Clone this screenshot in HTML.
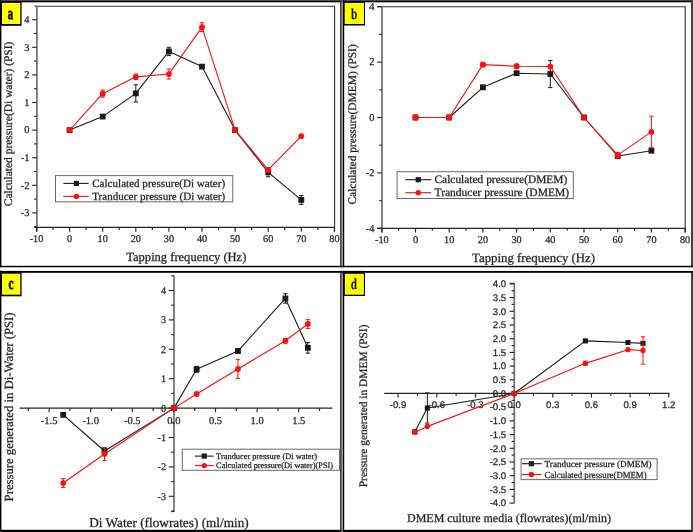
<!DOCTYPE html>
<html><head><meta charset="utf-8"><title>Pressure charts</title>
<style>html,body{margin:0;padding:0;background:#fff;}svg{display:block;will-change:transform;}text{text-rendering:geometricPrecision;}</style>
</head><body>
<svg width="693" height="532" viewBox="0 0 693 532">
<rect x="0.00" y="0.00" width="693.00" height="532.00" fill="#ffffff"/>
<line x1="34.30" y1="6.30" x2="335.00" y2="6.30" stroke="#303030" stroke-width="1.1"/>
<line x1="334.60" y1="6.30" x2="334.60" y2="231.60" stroke="#303030" stroke-width="1.1"/>
<line x1="36.90" y1="5.80" x2="36.90" y2="231.60" stroke="#707070" stroke-width="1.7"/>
<line x1="34.30" y1="227.30" x2="335.00" y2="227.30" stroke="#262626" stroke-width="1.2"/>
<line x1="32.20" y1="212.90" x2="36.70" y2="212.90" stroke="#262626" stroke-width="1.15"/>
<text x="29.40" y="216.10" font-family="'Liberation Serif', serif" font-size="10.4" fill="#262626" text-anchor="end" font-weight="normal" stroke="#262626" stroke-width="0.25" >-3</text>
<line x1="32.20" y1="185.30" x2="36.70" y2="185.30" stroke="#262626" stroke-width="1.15"/>
<text x="29.40" y="188.50" font-family="'Liberation Serif', serif" font-size="10.4" fill="#262626" text-anchor="end" font-weight="normal" stroke="#262626" stroke-width="0.25" >-2</text>
<line x1="32.20" y1="157.70" x2="36.70" y2="157.70" stroke="#262626" stroke-width="1.15"/>
<text x="29.40" y="160.90" font-family="'Liberation Serif', serif" font-size="10.4" fill="#262626" text-anchor="end" font-weight="normal" stroke="#262626" stroke-width="0.25" >-1</text>
<line x1="32.20" y1="130.10" x2="36.70" y2="130.10" stroke="#262626" stroke-width="1.15"/>
<text x="29.40" y="133.30" font-family="'Liberation Serif', serif" font-size="10.4" fill="#262626" text-anchor="end" font-weight="normal" stroke="#262626" stroke-width="0.25" >0</text>
<line x1="32.20" y1="102.50" x2="36.70" y2="102.50" stroke="#262626" stroke-width="1.15"/>
<text x="29.40" y="105.70" font-family="'Liberation Serif', serif" font-size="10.4" fill="#262626" text-anchor="end" font-weight="normal" stroke="#262626" stroke-width="0.25" >1</text>
<line x1="32.20" y1="74.90" x2="36.70" y2="74.90" stroke="#262626" stroke-width="1.15"/>
<text x="29.40" y="78.10" font-family="'Liberation Serif', serif" font-size="10.4" fill="#262626" text-anchor="end" font-weight="normal" stroke="#262626" stroke-width="0.25" >2</text>
<line x1="32.20" y1="47.30" x2="36.70" y2="47.30" stroke="#262626" stroke-width="1.15"/>
<text x="29.40" y="50.50" font-family="'Liberation Serif', serif" font-size="10.4" fill="#262626" text-anchor="end" font-weight="normal" stroke="#262626" stroke-width="0.25" >3</text>
<line x1="32.20" y1="19.70" x2="36.70" y2="19.70" stroke="#262626" stroke-width="1.15"/>
<text x="29.40" y="22.90" font-family="'Liberation Serif', serif" font-size="10.4" fill="#262626" text-anchor="end" font-weight="normal" stroke="#262626" stroke-width="0.25" >4</text>
<line x1="34.10" y1="226.70" x2="36.70" y2="226.70" stroke="#262626" stroke-width="1.15"/>
<line x1="34.10" y1="199.10" x2="36.70" y2="199.10" stroke="#262626" stroke-width="1.15"/>
<line x1="34.10" y1="171.50" x2="36.70" y2="171.50" stroke="#262626" stroke-width="1.15"/>
<line x1="34.10" y1="143.90" x2="36.70" y2="143.90" stroke="#262626" stroke-width="1.15"/>
<line x1="34.10" y1="116.30" x2="36.70" y2="116.30" stroke="#262626" stroke-width="1.15"/>
<line x1="34.10" y1="88.70" x2="36.70" y2="88.70" stroke="#262626" stroke-width="1.15"/>
<line x1="34.10" y1="61.10" x2="36.70" y2="61.10" stroke="#262626" stroke-width="1.15"/>
<line x1="34.10" y1="33.50" x2="36.70" y2="33.50" stroke="#262626" stroke-width="1.15"/>
<line x1="36.50" y1="227.30" x2="36.50" y2="231.70" stroke="#262626" stroke-width="1.15"/>
<text x="36.50" y="241.70" font-family="'Liberation Serif', serif" font-size="10.2" fill="#262626" text-anchor="middle" font-weight="normal" stroke="#262626" stroke-width="0.25" >-10</text>
<line x1="69.60" y1="227.30" x2="69.60" y2="231.70" stroke="#262626" stroke-width="1.15"/>
<text x="69.60" y="241.70" font-family="'Liberation Serif', serif" font-size="10.2" fill="#262626" text-anchor="middle" font-weight="normal" stroke="#262626" stroke-width="0.25" >0</text>
<line x1="102.70" y1="227.30" x2="102.70" y2="231.70" stroke="#262626" stroke-width="1.15"/>
<text x="102.70" y="241.70" font-family="'Liberation Serif', serif" font-size="10.2" fill="#262626" text-anchor="middle" font-weight="normal" stroke="#262626" stroke-width="0.25" >10</text>
<line x1="135.80" y1="227.30" x2="135.80" y2="231.70" stroke="#262626" stroke-width="1.15"/>
<text x="135.80" y="241.70" font-family="'Liberation Serif', serif" font-size="10.2" fill="#262626" text-anchor="middle" font-weight="normal" stroke="#262626" stroke-width="0.25" >20</text>
<line x1="168.90" y1="227.30" x2="168.90" y2="231.70" stroke="#262626" stroke-width="1.15"/>
<text x="168.90" y="241.70" font-family="'Liberation Serif', serif" font-size="10.2" fill="#262626" text-anchor="middle" font-weight="normal" stroke="#262626" stroke-width="0.25" >30</text>
<line x1="202.00" y1="227.30" x2="202.00" y2="231.70" stroke="#262626" stroke-width="1.15"/>
<text x="202.00" y="241.70" font-family="'Liberation Serif', serif" font-size="10.2" fill="#262626" text-anchor="middle" font-weight="normal" stroke="#262626" stroke-width="0.25" >40</text>
<line x1="235.10" y1="227.30" x2="235.10" y2="231.70" stroke="#262626" stroke-width="1.15"/>
<text x="235.10" y="241.70" font-family="'Liberation Serif', serif" font-size="10.2" fill="#262626" text-anchor="middle" font-weight="normal" stroke="#262626" stroke-width="0.25" >50</text>
<line x1="268.20" y1="227.30" x2="268.20" y2="231.70" stroke="#262626" stroke-width="1.15"/>
<text x="268.20" y="241.70" font-family="'Liberation Serif', serif" font-size="10.2" fill="#262626" text-anchor="middle" font-weight="normal" stroke="#262626" stroke-width="0.25" >60</text>
<line x1="301.30" y1="227.30" x2="301.30" y2="231.70" stroke="#262626" stroke-width="1.15"/>
<text x="301.30" y="241.70" font-family="'Liberation Serif', serif" font-size="10.2" fill="#262626" text-anchor="middle" font-weight="normal" stroke="#262626" stroke-width="0.25" >70</text>
<line x1="334.40" y1="227.30" x2="334.40" y2="231.70" stroke="#262626" stroke-width="1.15"/>
<text x="334.40" y="241.70" font-family="'Liberation Serif', serif" font-size="10.2" fill="#262626" text-anchor="middle" font-weight="normal" stroke="#262626" stroke-width="0.25" >80</text>
<line x1="53.05" y1="227.30" x2="53.05" y2="229.90" stroke="#262626" stroke-width="1.15"/>
<line x1="86.15" y1="227.30" x2="86.15" y2="229.90" stroke="#262626" stroke-width="1.15"/>
<line x1="119.25" y1="227.30" x2="119.25" y2="229.90" stroke="#262626" stroke-width="1.15"/>
<line x1="152.35" y1="227.30" x2="152.35" y2="229.90" stroke="#262626" stroke-width="1.15"/>
<line x1="185.45" y1="227.30" x2="185.45" y2="229.90" stroke="#262626" stroke-width="1.15"/>
<line x1="218.55" y1="227.30" x2="218.55" y2="229.90" stroke="#262626" stroke-width="1.15"/>
<line x1="251.65" y1="227.30" x2="251.65" y2="229.90" stroke="#262626" stroke-width="1.15"/>
<line x1="284.75" y1="227.30" x2="284.75" y2="229.90" stroke="#262626" stroke-width="1.15"/>
<line x1="317.85" y1="227.30" x2="317.85" y2="229.90" stroke="#262626" stroke-width="1.15"/>
<text x="186.30" y="260.80" font-family="'Liberation Serif', serif" font-size="12.5" fill="#222" text-anchor="middle" font-weight="normal" stroke="#222" stroke-width="0.25" textLength="120" lengthAdjust="spacingAndGlyphs">Tapping frequency (Hz)</text>
<text transform="translate(11.50,123.90) rotate(-90)" x="0" y="0" font-family="'Liberation Serif', serif" font-size="11.5" fill="#222" stroke="#222" stroke-width="0.25" text-anchor="middle" font-weight="normal" textLength="164.5" lengthAdjust="spacingAndGlyphs">Calculated pressure(Di water) (PSI)</text>
<polyline points="69.60,130.10 102.70,116.58 135.80,93.39 168.90,51.44 202.00,66.62 235.10,130.10 268.20,172.33 301.30,199.93" fill="none" stroke="#1a1a1a" stroke-width="1.1" stroke-linejoin="round"/>
<line x1="135.80" y1="84.84" x2="135.80" y2="101.95" stroke="#1a1a1a" stroke-width="1.0"/>
<line x1="133.60" y1="84.84" x2="138.00" y2="84.84" stroke="#1a1a1a" stroke-width="1.0"/>
<line x1="133.60" y1="101.95" x2="138.00" y2="101.95" stroke="#1a1a1a" stroke-width="1.0"/>
<line x1="168.90" y1="47.30" x2="168.90" y2="55.58" stroke="#1a1a1a" stroke-width="1.0"/>
<line x1="166.70" y1="47.30" x2="171.10" y2="47.30" stroke="#1a1a1a" stroke-width="1.0"/>
<line x1="166.70" y1="55.58" x2="171.10" y2="55.58" stroke="#1a1a1a" stroke-width="1.0"/>
<line x1="202.00" y1="65.24" x2="202.00" y2="68.00" stroke="#1a1a1a" stroke-width="1.0"/>
<line x1="199.80" y1="65.24" x2="204.20" y2="65.24" stroke="#1a1a1a" stroke-width="1.0"/>
<line x1="199.80" y1="68.00" x2="204.20" y2="68.00" stroke="#1a1a1a" stroke-width="1.0"/>
<line x1="268.20" y1="167.91" x2="268.20" y2="176.74" stroke="#1a1a1a" stroke-width="1.0"/>
<line x1="266.00" y1="167.91" x2="270.40" y2="167.91" stroke="#1a1a1a" stroke-width="1.0"/>
<line x1="266.00" y1="176.74" x2="270.40" y2="176.74" stroke="#1a1a1a" stroke-width="1.0"/>
<line x1="301.30" y1="195.51" x2="301.30" y2="204.34" stroke="#1a1a1a" stroke-width="1.0"/>
<line x1="299.10" y1="195.51" x2="303.50" y2="195.51" stroke="#1a1a1a" stroke-width="1.0"/>
<line x1="299.10" y1="204.34" x2="303.50" y2="204.34" stroke="#1a1a1a" stroke-width="1.0"/>
<rect x="66.70" y="127.20" width="5.80" height="5.80" fill="#1a1a1a"/>
<rect x="99.80" y="113.68" width="5.80" height="5.80" fill="#1a1a1a"/>
<rect x="132.90" y="90.49" width="5.80" height="5.80" fill="#1a1a1a"/>
<rect x="166.00" y="48.54" width="5.80" height="5.80" fill="#1a1a1a"/>
<rect x="199.10" y="63.72" width="5.80" height="5.80" fill="#1a1a1a"/>
<rect x="232.20" y="127.20" width="5.80" height="5.80" fill="#1a1a1a"/>
<rect x="265.30" y="169.43" width="5.80" height="5.80" fill="#1a1a1a"/>
<rect x="298.40" y="197.03" width="5.80" height="5.80" fill="#1a1a1a"/>
<polyline points="69.60,130.10 102.70,93.67 135.80,76.83 168.90,74.07 202.00,27.15 235.10,130.10 268.20,169.84 301.30,136.17" fill="none" stroke="#ff1010" stroke-width="1.1" stroke-linejoin="round"/>
<line x1="102.70" y1="90.08" x2="102.70" y2="97.26" stroke="#ff1010" stroke-width="1.0"/>
<line x1="100.50" y1="90.08" x2="104.90" y2="90.08" stroke="#ff1010" stroke-width="1.0"/>
<line x1="100.50" y1="97.26" x2="104.90" y2="97.26" stroke="#ff1010" stroke-width="1.0"/>
<line x1="135.80" y1="74.07" x2="135.80" y2="79.59" stroke="#ff1010" stroke-width="1.0"/>
<line x1="133.60" y1="74.07" x2="138.00" y2="74.07" stroke="#ff1010" stroke-width="1.0"/>
<line x1="133.60" y1="79.59" x2="138.00" y2="79.59" stroke="#ff1010" stroke-width="1.0"/>
<line x1="168.90" y1="69.10" x2="168.90" y2="79.04" stroke="#ff1010" stroke-width="1.0"/>
<line x1="166.70" y1="69.10" x2="171.10" y2="69.10" stroke="#ff1010" stroke-width="1.0"/>
<line x1="166.70" y1="79.04" x2="171.10" y2="79.04" stroke="#ff1010" stroke-width="1.0"/>
<line x1="202.00" y1="22.74" x2="202.00" y2="31.57" stroke="#ff1010" stroke-width="1.0"/>
<line x1="199.80" y1="22.74" x2="204.20" y2="22.74" stroke="#ff1010" stroke-width="1.0"/>
<line x1="199.80" y1="31.57" x2="204.20" y2="31.57" stroke="#ff1010" stroke-width="1.0"/>
<line x1="268.20" y1="167.64" x2="268.20" y2="172.05" stroke="#ff1010" stroke-width="1.0"/>
<line x1="266.00" y1="167.64" x2="270.40" y2="167.64" stroke="#ff1010" stroke-width="1.0"/>
<line x1="266.00" y1="172.05" x2="270.40" y2="172.05" stroke="#ff1010" stroke-width="1.0"/>
<circle cx="69.60" cy="130.10" r="2.90" fill="#ff1010"/>
<circle cx="102.70" cy="93.67" r="2.90" fill="#ff1010"/>
<circle cx="135.80" cy="76.83" r="2.90" fill="#ff1010"/>
<circle cx="168.90" cy="74.07" r="2.90" fill="#ff1010"/>
<circle cx="202.00" cy="27.15" r="2.90" fill="#ff1010"/>
<circle cx="235.10" cy="130.10" r="2.90" fill="#ff1010"/>
<circle cx="268.20" cy="169.84" r="2.90" fill="#ff1010"/>
<circle cx="301.30" cy="136.17" r="2.90" fill="#ff1010"/>
<rect x="55.50" y="175.60" width="177.30" height="26.20" fill="#fff" stroke="#6a6a6a" stroke-width="1"/>
<line x1="63.40" y1="183.40" x2="88.70" y2="183.40" stroke="#1a1a1a" stroke-width="1.1"/>
<rect x="73.80" y="180.80" width="5.20" height="5.20" fill="#1a1a1a"/>
<text x="92.20" y="187.06" font-family="'Liberation Serif', serif" font-size="11.1" fill="#222" text-anchor="start" font-weight="normal" stroke="#222" stroke-width="0.25" textLength="133" lengthAdjust="spacingAndGlyphs">Calculated pressure(Di water)</text>
<line x1="63.40" y1="196.40" x2="88.70" y2="196.40" stroke="#ff1010" stroke-width="1.1"/>
<circle cx="76.40" cy="196.40" r="2.7" fill="#ff1010"/>
<text x="92.20" y="200.06" font-family="'Liberation Serif', serif" font-size="11.1" fill="#222" text-anchor="start" font-weight="normal" stroke="#222" stroke-width="0.25" textLength="133" lengthAdjust="spacingAndGlyphs">Tranducer pressure (Di water)</text>
<line x1="377.00" y1="6.70" x2="685.60" y2="6.70" stroke="#303030" stroke-width="1.1"/>
<line x1="685.20" y1="6.70" x2="685.20" y2="232.60" stroke="#303030" stroke-width="1.1"/>
<line x1="382.00" y1="6.20" x2="382.00" y2="232.60" stroke="#707070" stroke-width="1.7"/>
<line x1="377.00" y1="228.30" x2="685.60" y2="228.30" stroke="#262626" stroke-width="1.2"/>
<line x1="377.20" y1="228.30" x2="381.80" y2="228.30" stroke="#262626" stroke-width="1.15"/>
<text x="374.40" y="231.50" font-family="'Liberation Serif', serif" font-size="10.4" fill="#262626" text-anchor="end" font-weight="normal" stroke="#262626" stroke-width="0.25" >-4</text>
<line x1="379.30" y1="200.60" x2="381.80" y2="200.60" stroke="#262626" stroke-width="1.15"/>
<line x1="377.20" y1="172.90" x2="381.80" y2="172.90" stroke="#262626" stroke-width="1.15"/>
<text x="374.40" y="176.10" font-family="'Liberation Serif', serif" font-size="10.4" fill="#262626" text-anchor="end" font-weight="normal" stroke="#262626" stroke-width="0.25" >-2</text>
<line x1="379.30" y1="145.20" x2="381.80" y2="145.20" stroke="#262626" stroke-width="1.15"/>
<line x1="377.20" y1="117.50" x2="381.80" y2="117.50" stroke="#262626" stroke-width="1.15"/>
<text x="374.40" y="120.70" font-family="'Liberation Serif', serif" font-size="10.4" fill="#262626" text-anchor="end" font-weight="normal" stroke="#262626" stroke-width="0.25" >0</text>
<line x1="379.30" y1="89.80" x2="381.80" y2="89.80" stroke="#262626" stroke-width="1.15"/>
<line x1="377.20" y1="62.10" x2="381.80" y2="62.10" stroke="#262626" stroke-width="1.15"/>
<text x="374.40" y="65.30" font-family="'Liberation Serif', serif" font-size="10.4" fill="#262626" text-anchor="end" font-weight="normal" stroke="#262626" stroke-width="0.25" >2</text>
<line x1="379.30" y1="34.40" x2="381.80" y2="34.40" stroke="#262626" stroke-width="1.15"/>
<line x1="377.20" y1="6.70" x2="381.80" y2="6.70" stroke="#262626" stroke-width="1.15"/>
<text x="374.40" y="9.90" font-family="'Liberation Serif', serif" font-size="10.4" fill="#262626" text-anchor="end" font-weight="normal" stroke="#262626" stroke-width="0.25" >4</text>
<line x1="381.80" y1="228.40" x2="381.80" y2="232.60" stroke="#262626" stroke-width="1.15"/>
<text x="381.80" y="242.60" font-family="'Liberation Serif', serif" font-size="10.2" fill="#262626" text-anchor="middle" font-weight="normal" stroke="#262626" stroke-width="0.25" >-10</text>
<line x1="415.50" y1="228.40" x2="415.50" y2="232.60" stroke="#262626" stroke-width="1.15"/>
<text x="415.50" y="242.60" font-family="'Liberation Serif', serif" font-size="10.2" fill="#262626" text-anchor="middle" font-weight="normal" stroke="#262626" stroke-width="0.25" >0</text>
<line x1="449.20" y1="228.40" x2="449.20" y2="232.60" stroke="#262626" stroke-width="1.15"/>
<text x="449.20" y="242.60" font-family="'Liberation Serif', serif" font-size="10.2" fill="#262626" text-anchor="middle" font-weight="normal" stroke="#262626" stroke-width="0.25" >10</text>
<line x1="482.90" y1="228.40" x2="482.90" y2="232.60" stroke="#262626" stroke-width="1.15"/>
<text x="482.90" y="242.60" font-family="'Liberation Serif', serif" font-size="10.2" fill="#262626" text-anchor="middle" font-weight="normal" stroke="#262626" stroke-width="0.25" >20</text>
<line x1="516.60" y1="228.40" x2="516.60" y2="232.60" stroke="#262626" stroke-width="1.15"/>
<text x="516.60" y="242.60" font-family="'Liberation Serif', serif" font-size="10.2" fill="#262626" text-anchor="middle" font-weight="normal" stroke="#262626" stroke-width="0.25" >30</text>
<line x1="550.30" y1="228.40" x2="550.30" y2="232.60" stroke="#262626" stroke-width="1.15"/>
<text x="550.30" y="242.60" font-family="'Liberation Serif', serif" font-size="10.2" fill="#262626" text-anchor="middle" font-weight="normal" stroke="#262626" stroke-width="0.25" >40</text>
<line x1="584.00" y1="228.40" x2="584.00" y2="232.60" stroke="#262626" stroke-width="1.15"/>
<text x="584.00" y="242.60" font-family="'Liberation Serif', serif" font-size="10.2" fill="#262626" text-anchor="middle" font-weight="normal" stroke="#262626" stroke-width="0.25" >50</text>
<line x1="617.70" y1="228.40" x2="617.70" y2="232.60" stroke="#262626" stroke-width="1.15"/>
<text x="617.70" y="242.60" font-family="'Liberation Serif', serif" font-size="10.2" fill="#262626" text-anchor="middle" font-weight="normal" stroke="#262626" stroke-width="0.25" >60</text>
<line x1="651.40" y1="228.40" x2="651.40" y2="232.60" stroke="#262626" stroke-width="1.15"/>
<text x="651.40" y="242.60" font-family="'Liberation Serif', serif" font-size="10.2" fill="#262626" text-anchor="middle" font-weight="normal" stroke="#262626" stroke-width="0.25" >70</text>
<line x1="685.10" y1="228.40" x2="685.10" y2="232.60" stroke="#262626" stroke-width="1.15"/>
<text x="685.10" y="242.60" font-family="'Liberation Serif', serif" font-size="10.2" fill="#262626" text-anchor="middle" font-weight="normal" stroke="#262626" stroke-width="0.25" >80</text>
<line x1="398.65" y1="228.40" x2="398.65" y2="230.80" stroke="#262626" stroke-width="1.15"/>
<line x1="432.35" y1="228.40" x2="432.35" y2="230.80" stroke="#262626" stroke-width="1.15"/>
<line x1="466.05" y1="228.40" x2="466.05" y2="230.80" stroke="#262626" stroke-width="1.15"/>
<line x1="499.75" y1="228.40" x2="499.75" y2="230.80" stroke="#262626" stroke-width="1.15"/>
<line x1="533.45" y1="228.40" x2="533.45" y2="230.80" stroke="#262626" stroke-width="1.15"/>
<line x1="567.15" y1="228.40" x2="567.15" y2="230.80" stroke="#262626" stroke-width="1.15"/>
<line x1="600.85" y1="228.40" x2="600.85" y2="230.80" stroke="#262626" stroke-width="1.15"/>
<line x1="634.55" y1="228.40" x2="634.55" y2="230.80" stroke="#262626" stroke-width="1.15"/>
<line x1="668.25" y1="228.40" x2="668.25" y2="230.80" stroke="#262626" stroke-width="1.15"/>
<text x="533.50" y="261.70" font-family="'Liberation Serif', serif" font-size="12.8" fill="#222" text-anchor="middle" font-weight="normal" stroke="#222" stroke-width="0.25" textLength="123" lengthAdjust="spacingAndGlyphs">Tapping frequency (Hz)</text>
<text transform="translate(356.20,124.40) rotate(-90)" x="0" y="0" font-family="'Liberation Serif', serif" font-size="11.5" fill="#222" stroke="#222" stroke-width="0.25" text-anchor="middle" font-weight="normal" textLength="160.3" lengthAdjust="spacingAndGlyphs">Calculated pressure(DMEM) (PSI)</text>
<polyline points="415.50,117.50 449.20,117.50 482.90,87.31 516.60,73.18 550.30,74.01 584.00,117.50 617.70,156.00 651.40,150.74" fill="none" stroke="#1a1a1a" stroke-width="1.1" stroke-linejoin="round"/>
<line x1="550.30" y1="60.44" x2="550.30" y2="87.58" stroke="#1a1a1a" stroke-width="1.0"/>
<line x1="548.10" y1="60.44" x2="552.50" y2="60.44" stroke="#1a1a1a" stroke-width="1.0"/>
<line x1="548.10" y1="87.58" x2="552.50" y2="87.58" stroke="#1a1a1a" stroke-width="1.0"/>
<line x1="617.70" y1="153.79" x2="617.70" y2="158.22" stroke="#1a1a1a" stroke-width="1.0"/>
<line x1="615.50" y1="153.79" x2="619.90" y2="153.79" stroke="#1a1a1a" stroke-width="1.0"/>
<line x1="615.50" y1="158.22" x2="619.90" y2="158.22" stroke="#1a1a1a" stroke-width="1.0"/>
<line x1="651.40" y1="149.35" x2="651.40" y2="152.12" stroke="#1a1a1a" stroke-width="1.0"/>
<line x1="649.20" y1="149.35" x2="653.60" y2="149.35" stroke="#1a1a1a" stroke-width="1.0"/>
<line x1="649.20" y1="152.12" x2="653.60" y2="152.12" stroke="#1a1a1a" stroke-width="1.0"/>
<rect x="412.60" y="114.60" width="5.80" height="5.80" fill="#1a1a1a"/>
<rect x="446.30" y="114.60" width="5.80" height="5.80" fill="#1a1a1a"/>
<rect x="480.00" y="84.41" width="5.80" height="5.80" fill="#1a1a1a"/>
<rect x="513.70" y="70.28" width="5.80" height="5.80" fill="#1a1a1a"/>
<rect x="547.40" y="71.11" width="5.80" height="5.80" fill="#1a1a1a"/>
<rect x="581.10" y="114.60" width="5.80" height="5.80" fill="#1a1a1a"/>
<rect x="614.80" y="153.10" width="5.80" height="5.80" fill="#1a1a1a"/>
<rect x="648.50" y="147.84" width="5.80" height="5.80" fill="#1a1a1a"/>
<polyline points="415.50,117.50 449.20,117.50 482.90,64.59 516.60,66.25 550.30,66.53 584.00,117.50 617.70,155.17 651.40,131.90" fill="none" stroke="#ff1010" stroke-width="1.1" stroke-linejoin="round"/>
<line x1="482.90" y1="63.48" x2="482.90" y2="65.70" stroke="#ff1010" stroke-width="1.0"/>
<line x1="480.70" y1="63.48" x2="485.10" y2="63.48" stroke="#ff1010" stroke-width="1.0"/>
<line x1="480.70" y1="65.70" x2="485.10" y2="65.70" stroke="#ff1010" stroke-width="1.0"/>
<line x1="516.60" y1="65.42" x2="516.60" y2="67.09" stroke="#ff1010" stroke-width="1.0"/>
<line x1="514.40" y1="65.42" x2="518.80" y2="65.42" stroke="#ff1010" stroke-width="1.0"/>
<line x1="514.40" y1="67.09" x2="518.80" y2="67.09" stroke="#ff1010" stroke-width="1.0"/>
<line x1="550.30" y1="65.15" x2="550.30" y2="67.92" stroke="#ff1010" stroke-width="1.0"/>
<line x1="548.10" y1="65.15" x2="552.50" y2="65.15" stroke="#ff1010" stroke-width="1.0"/>
<line x1="548.10" y1="67.92" x2="552.50" y2="67.92" stroke="#ff1010" stroke-width="1.0"/>
<line x1="617.70" y1="152.40" x2="617.70" y2="157.94" stroke="#ff1010" stroke-width="1.0"/>
<line x1="615.50" y1="152.40" x2="619.90" y2="152.40" stroke="#ff1010" stroke-width="1.0"/>
<line x1="615.50" y1="157.94" x2="619.90" y2="157.94" stroke="#ff1010" stroke-width="1.0"/>
<line x1="651.40" y1="116.12" x2="651.40" y2="147.69" stroke="#ff1010" stroke-width="1.0"/>
<line x1="649.20" y1="116.12" x2="653.60" y2="116.12" stroke="#ff1010" stroke-width="1.0"/>
<line x1="649.20" y1="147.69" x2="653.60" y2="147.69" stroke="#ff1010" stroke-width="1.0"/>
<rect x="412.60" y="114.60" width="5.8" height="5.8" rx="1.6" fill="#ff1010"/>
<rect x="446.30" y="114.60" width="5.8" height="5.8" rx="1.6" fill="#ff1010"/>
<rect x="480.00" y="61.69" width="5.8" height="5.8" rx="1.6" fill="#ff1010"/>
<rect x="513.70" y="63.35" width="5.8" height="5.8" rx="1.6" fill="#ff1010"/>
<circle cx="550.30" cy="66.53" r="2.90" fill="#ff1010"/>
<circle cx="584.00" cy="117.50" r="2.90" fill="#ff1010"/>
<circle cx="617.70" cy="155.17" r="2.90" fill="#ff1010"/>
<circle cx="651.40" cy="131.90" r="2.90" fill="#ff1010"/>
<rect x="397.10" y="171.70" width="176.20" height="26.80" fill="#fff" stroke="#6a6a6a" stroke-width="1"/>
<line x1="405.30" y1="179.70" x2="431.30" y2="179.70" stroke="#1a1a1a" stroke-width="1.1"/>
<rect x="415.70" y="177.10" width="5.20" height="5.20" fill="#1a1a1a"/>
<text x="434.50" y="183.46" font-family="'Liberation Serif', serif" font-size="11.4" fill="#222" text-anchor="start" font-weight="normal" stroke="#222" stroke-width="0.25" textLength="132.8" lengthAdjust="spacingAndGlyphs">Calculated pressure(DMEM)</text>
<line x1="405.30" y1="192.70" x2="431.30" y2="192.70" stroke="#ff1010" stroke-width="1.1"/>
<circle cx="418.30" cy="192.70" r="2.7" fill="#ff1010"/>
<text x="434.50" y="196.46" font-family="'Liberation Serif', serif" font-size="11.4" fill="#222" text-anchor="start" font-weight="normal" stroke="#222" stroke-width="0.25" textLength="134.5" lengthAdjust="spacingAndGlyphs">Tranducer pressure (DMEM)</text>
<line x1="19.50" y1="408.20" x2="332.50" y2="408.20" stroke="#262626" stroke-width="1.2"/>
<line x1="174.00" y1="275.40" x2="174.00" y2="512.00" stroke="#707070" stroke-width="1.7"/>
<line x1="171.30" y1="275.80" x2="173.90" y2="275.80" stroke="#262626" stroke-width="1.15"/>
<line x1="171.30" y1="511.60" x2="173.90" y2="511.60" stroke="#262626" stroke-width="1.15"/>
<line x1="168.80" y1="496.30" x2="173.90" y2="496.30" stroke="#262626" stroke-width="1.15"/>
<text x="166.00" y="499.80" font-family="'Liberation Serif', serif" font-size="10.2" fill="#262626" text-anchor="end" font-weight="normal" stroke="#262626" stroke-width="0.25" >-3</text>
<line x1="168.80" y1="466.90" x2="173.90" y2="466.90" stroke="#262626" stroke-width="1.15"/>
<text x="166.00" y="470.40" font-family="'Liberation Serif', serif" font-size="10.2" fill="#262626" text-anchor="end" font-weight="normal" stroke="#262626" stroke-width="0.25" >-2</text>
<line x1="168.80" y1="437.50" x2="173.90" y2="437.50" stroke="#262626" stroke-width="1.15"/>
<text x="166.00" y="441.00" font-family="'Liberation Serif', serif" font-size="10.2" fill="#262626" text-anchor="end" font-weight="normal" stroke="#262626" stroke-width="0.25" >-1</text>
<line x1="168.80" y1="408.10" x2="173.90" y2="408.10" stroke="#262626" stroke-width="1.15"/>
<text x="166.00" y="411.60" font-family="'Liberation Serif', serif" font-size="10.2" fill="#262626" text-anchor="end" font-weight="normal" stroke="#262626" stroke-width="0.25" >0</text>
<line x1="168.80" y1="378.70" x2="173.90" y2="378.70" stroke="#262626" stroke-width="1.15"/>
<text x="166.00" y="382.20" font-family="'Liberation Serif', serif" font-size="10.2" fill="#262626" text-anchor="end" font-weight="normal" stroke="#262626" stroke-width="0.25" >1</text>
<line x1="168.80" y1="349.30" x2="173.90" y2="349.30" stroke="#262626" stroke-width="1.15"/>
<text x="166.00" y="352.80" font-family="'Liberation Serif', serif" font-size="10.2" fill="#262626" text-anchor="end" font-weight="normal" stroke="#262626" stroke-width="0.25" >2</text>
<line x1="168.80" y1="319.90" x2="173.90" y2="319.90" stroke="#262626" stroke-width="1.15"/>
<text x="166.00" y="323.40" font-family="'Liberation Serif', serif" font-size="10.2" fill="#262626" text-anchor="end" font-weight="normal" stroke="#262626" stroke-width="0.25" >3</text>
<line x1="168.80" y1="290.50" x2="173.90" y2="290.50" stroke="#262626" stroke-width="1.15"/>
<text x="166.00" y="294.00" font-family="'Liberation Serif', serif" font-size="10.2" fill="#262626" text-anchor="end" font-weight="normal" stroke="#262626" stroke-width="0.25" >4</text>
<line x1="171.20" y1="511.00" x2="173.90" y2="511.00" stroke="#262626" stroke-width="1.15"/>
<line x1="171.20" y1="481.60" x2="173.90" y2="481.60" stroke="#262626" stroke-width="1.15"/>
<line x1="171.20" y1="452.20" x2="173.90" y2="452.20" stroke="#262626" stroke-width="1.15"/>
<line x1="171.20" y1="422.80" x2="173.90" y2="422.80" stroke="#262626" stroke-width="1.15"/>
<line x1="171.20" y1="393.40" x2="173.90" y2="393.40" stroke="#262626" stroke-width="1.15"/>
<line x1="171.20" y1="364.00" x2="173.90" y2="364.00" stroke="#262626" stroke-width="1.15"/>
<line x1="171.20" y1="334.60" x2="173.90" y2="334.60" stroke="#262626" stroke-width="1.15"/>
<line x1="171.20" y1="305.20" x2="173.90" y2="305.20" stroke="#262626" stroke-width="1.15"/>
<line x1="49.10" y1="408.10" x2="49.10" y2="412.30" stroke="#262626" stroke-width="1.15"/>
<text x="49.10" y="424.30" font-family="'Liberation Serif', serif" font-size="10.5" fill="#262626" text-anchor="middle" font-weight="normal" stroke="#262626" stroke-width="0.25" >-1.5</text>
<line x1="90.70" y1="408.10" x2="90.70" y2="412.30" stroke="#262626" stroke-width="1.15"/>
<text x="90.70" y="424.30" font-family="'Liberation Serif', serif" font-size="10.5" fill="#262626" text-anchor="middle" font-weight="normal" stroke="#262626" stroke-width="0.25" >-1.0</text>
<line x1="132.30" y1="408.10" x2="132.30" y2="412.30" stroke="#262626" stroke-width="1.15"/>
<text x="132.30" y="424.30" font-family="'Liberation Serif', serif" font-size="10.5" fill="#262626" text-anchor="middle" font-weight="normal" stroke="#262626" stroke-width="0.25" >-0.5</text>
<line x1="173.90" y1="408.10" x2="173.90" y2="412.30" stroke="#262626" stroke-width="1.15"/>
<text x="173.90" y="424.30" font-family="'Liberation Serif', serif" font-size="10.5" fill="#262626" text-anchor="middle" font-weight="normal" stroke="#262626" stroke-width="0.25" >0.0</text>
<line x1="215.50" y1="408.10" x2="215.50" y2="412.30" stroke="#262626" stroke-width="1.15"/>
<text x="215.50" y="424.30" font-family="'Liberation Serif', serif" font-size="10.5" fill="#262626" text-anchor="middle" font-weight="normal" stroke="#262626" stroke-width="0.25" >0.5</text>
<line x1="257.10" y1="408.10" x2="257.10" y2="412.30" stroke="#262626" stroke-width="1.15"/>
<text x="257.10" y="424.30" font-family="'Liberation Serif', serif" font-size="10.5" fill="#262626" text-anchor="middle" font-weight="normal" stroke="#262626" stroke-width="0.25" >1.0</text>
<line x1="298.70" y1="408.10" x2="298.70" y2="412.30" stroke="#262626" stroke-width="1.15"/>
<text x="298.70" y="424.30" font-family="'Liberation Serif', serif" font-size="10.5" fill="#262626" text-anchor="middle" font-weight="normal" stroke="#262626" stroke-width="0.25" >1.5</text>
<line x1="28.30" y1="408.10" x2="28.30" y2="411.00" stroke="#262626" stroke-width="1.15"/>
<line x1="69.90" y1="408.10" x2="69.90" y2="411.00" stroke="#262626" stroke-width="1.15"/>
<line x1="111.50" y1="408.10" x2="111.50" y2="411.00" stroke="#262626" stroke-width="1.15"/>
<line x1="153.10" y1="408.10" x2="153.10" y2="411.00" stroke="#262626" stroke-width="1.15"/>
<line x1="194.70" y1="408.10" x2="194.70" y2="411.00" stroke="#262626" stroke-width="1.15"/>
<line x1="236.30" y1="408.10" x2="236.30" y2="411.00" stroke="#262626" stroke-width="1.15"/>
<line x1="277.90" y1="408.10" x2="277.90" y2="411.00" stroke="#262626" stroke-width="1.15"/>
<line x1="319.50" y1="408.10" x2="319.50" y2="411.00" stroke="#262626" stroke-width="1.15"/>
<text x="169.00" y="526.80" font-family="'Liberation Serif', serif" font-size="13.2" fill="#222" text-anchor="middle" font-weight="normal" stroke="#222" stroke-width="0.25" textLength="159.5" lengthAdjust="spacingAndGlyphs">Di Water (flowrates) (ml/min)</text>
<text transform="translate(13.40,406.90) rotate(-90)" x="0" y="0" font-family="'Liberation Serif', serif" font-size="12.6" fill="#222" stroke="#222" stroke-width="0.25" text-anchor="middle" font-weight="normal" textLength="189" lengthAdjust="spacingAndGlyphs">Pressure generated in Di-Water (PSI)</text>
<polyline points="63.24,414.86 104.51,451.02 173.90,408.10 196.61,369.29 237.96,351.06 285.39,298.44 307.85,347.83" fill="none" stroke="#1a1a1a" stroke-width="1.1" stroke-linejoin="round"/>
<line x1="104.51" y1="447.50" x2="104.51" y2="454.55" stroke="#1a1a1a" stroke-width="1.0"/>
<line x1="102.31" y1="447.50" x2="106.71" y2="447.50" stroke="#1a1a1a" stroke-width="1.0"/>
<line x1="102.31" y1="454.55" x2="106.71" y2="454.55" stroke="#1a1a1a" stroke-width="1.0"/>
<line x1="196.61" y1="366.35" x2="196.61" y2="372.23" stroke="#1a1a1a" stroke-width="1.0"/>
<line x1="194.41" y1="366.35" x2="198.81" y2="366.35" stroke="#1a1a1a" stroke-width="1.0"/>
<line x1="194.41" y1="372.23" x2="198.81" y2="372.23" stroke="#1a1a1a" stroke-width="1.0"/>
<line x1="237.96" y1="348.71" x2="237.96" y2="353.42" stroke="#1a1a1a" stroke-width="1.0"/>
<line x1="235.76" y1="348.71" x2="240.16" y2="348.71" stroke="#1a1a1a" stroke-width="1.0"/>
<line x1="235.76" y1="353.42" x2="240.16" y2="353.42" stroke="#1a1a1a" stroke-width="1.0"/>
<line x1="285.39" y1="293.73" x2="285.39" y2="303.14" stroke="#1a1a1a" stroke-width="1.0"/>
<line x1="283.19" y1="293.73" x2="287.59" y2="293.73" stroke="#1a1a1a" stroke-width="1.0"/>
<line x1="283.19" y1="303.14" x2="287.59" y2="303.14" stroke="#1a1a1a" stroke-width="1.0"/>
<line x1="307.85" y1="342.54" x2="307.85" y2="353.12" stroke="#1a1a1a" stroke-width="1.0"/>
<line x1="305.65" y1="342.54" x2="310.05" y2="342.54" stroke="#1a1a1a" stroke-width="1.0"/>
<line x1="305.65" y1="353.12" x2="310.05" y2="353.12" stroke="#1a1a1a" stroke-width="1.0"/>
<rect x="60.34" y="411.96" width="5.80" height="5.80" fill="#1a1a1a"/>
<rect x="101.61" y="448.12" width="5.80" height="5.80" fill="#1a1a1a"/>
<rect x="171.00" y="405.20" width="5.80" height="5.80" fill="#1a1a1a"/>
<rect x="193.71" y="366.39" width="5.80" height="5.80" fill="#1a1a1a"/>
<rect x="235.06" y="348.16" width="5.80" height="5.80" fill="#1a1a1a"/>
<rect x="282.49" y="295.54" width="5.80" height="5.80" fill="#1a1a1a"/>
<rect x="304.95" y="344.93" width="5.80" height="5.80" fill="#1a1a1a"/>
<polyline points="63.24,483.07 104.51,453.96 173.90,408.10 196.61,393.99 237.96,369.00 285.39,340.77 307.85,324.02" fill="none" stroke="#ff1010" stroke-width="1.1" stroke-linejoin="round"/>
<line x1="63.24" y1="478.66" x2="63.24" y2="487.48" stroke="#ff1010" stroke-width="1.0"/>
<line x1="61.04" y1="478.66" x2="65.44" y2="478.66" stroke="#ff1010" stroke-width="1.0"/>
<line x1="61.04" y1="487.48" x2="65.44" y2="487.48" stroke="#ff1010" stroke-width="1.0"/>
<line x1="104.51" y1="447.50" x2="104.51" y2="460.43" stroke="#ff1010" stroke-width="1.0"/>
<line x1="102.31" y1="447.50" x2="106.71" y2="447.50" stroke="#ff1010" stroke-width="1.0"/>
<line x1="102.31" y1="460.43" x2="106.71" y2="460.43" stroke="#ff1010" stroke-width="1.0"/>
<line x1="237.96" y1="359.59" x2="237.96" y2="378.41" stroke="#ff1010" stroke-width="1.0"/>
<line x1="235.76" y1="359.59" x2="240.16" y2="359.59" stroke="#ff1010" stroke-width="1.0"/>
<line x1="235.76" y1="378.41" x2="240.16" y2="378.41" stroke="#ff1010" stroke-width="1.0"/>
<line x1="285.39" y1="338.42" x2="285.39" y2="343.13" stroke="#ff1010" stroke-width="1.0"/>
<line x1="283.19" y1="338.42" x2="287.59" y2="338.42" stroke="#ff1010" stroke-width="1.0"/>
<line x1="283.19" y1="343.13" x2="287.59" y2="343.13" stroke="#ff1010" stroke-width="1.0"/>
<line x1="307.85" y1="319.61" x2="307.85" y2="328.43" stroke="#ff1010" stroke-width="1.0"/>
<line x1="305.65" y1="319.61" x2="310.05" y2="319.61" stroke="#ff1010" stroke-width="1.0"/>
<line x1="305.65" y1="328.43" x2="310.05" y2="328.43" stroke="#ff1010" stroke-width="1.0"/>
<circle cx="63.24" cy="483.07" r="2.90" fill="#ff1010"/>
<circle cx="104.51" cy="453.96" r="2.90" fill="#ff1010"/>
<circle cx="173.90" cy="408.10" r="2.90" fill="#ff1010"/>
<circle cx="196.61" cy="393.99" r="2.90" fill="#ff1010"/>
<circle cx="237.96" cy="369.00" r="2.90" fill="#ff1010"/>
<circle cx="285.39" cy="340.77" r="2.90" fill="#ff1010"/>
<circle cx="307.85" cy="324.02" r="2.90" fill="#ff1010"/>
<rect x="182.30" y="449.20" width="157.30" height="21.10" fill="#fff" stroke="#6a6a6a" stroke-width="1"/>
<line x1="194.90" y1="456.10" x2="213.70" y2="456.10" stroke="#1a1a1a" stroke-width="1.1"/>
<rect x="201.60" y="453.50" width="5.20" height="5.20" fill="#1a1a1a"/>
<text x="216.10" y="458.87" font-family="'Liberation Serif', serif" font-size="8.4" fill="#222" text-anchor="start" font-weight="normal" stroke="#222" stroke-width="0.25" textLength="101" lengthAdjust="spacingAndGlyphs">Tranducer pressure (Di water)</text>
<line x1="194.90" y1="465.60" x2="213.70" y2="465.60" stroke="#ff1010" stroke-width="1.1"/>
<circle cx="204.20" cy="465.60" r="2.7" fill="#ff1010"/>
<text x="216.10" y="468.37" font-family="'Liberation Serif', serif" font-size="8.4" fill="#222" text-anchor="start" font-weight="normal" stroke="#222" stroke-width="0.25" textLength="117" lengthAdjust="spacingAndGlyphs">Calculated pressure(Di water)(PSI)</text>
<line x1="384.20" y1="393.30" x2="669.60" y2="393.30" stroke="#262626" stroke-width="1.25"/>
<line x1="514.30" y1="283.00" x2="514.30" y2="503.30" stroke="#707070" stroke-width="1.7"/>
<line x1="510.00" y1="283.30" x2="514.20" y2="283.30" stroke="#262626" stroke-width="1.15"/>
<line x1="509.60" y1="503.10" x2="514.20" y2="503.10" stroke="#262626" stroke-width="1.15"/>
<text x="506.20" y="506.30" font-family="'Liberation Sans', sans-serif" font-size="9.6" fill="#262626" text-anchor="end" font-weight="normal" stroke="#262626" stroke-width="0.25" >-4.0</text>
<line x1="511.60" y1="496.25" x2="514.20" y2="496.25" stroke="#262626" stroke-width="1.15"/>
<line x1="509.60" y1="489.40" x2="514.20" y2="489.40" stroke="#262626" stroke-width="1.15"/>
<text x="506.20" y="492.60" font-family="'Liberation Sans', sans-serif" font-size="9.6" fill="#262626" text-anchor="end" font-weight="normal" stroke="#262626" stroke-width="0.25" >-3.5</text>
<line x1="511.60" y1="482.55" x2="514.20" y2="482.55" stroke="#262626" stroke-width="1.15"/>
<line x1="509.60" y1="475.70" x2="514.20" y2="475.70" stroke="#262626" stroke-width="1.15"/>
<text x="506.20" y="478.90" font-family="'Liberation Sans', sans-serif" font-size="9.6" fill="#262626" text-anchor="end" font-weight="normal" stroke="#262626" stroke-width="0.25" >-3.0</text>
<line x1="511.60" y1="468.85" x2="514.20" y2="468.85" stroke="#262626" stroke-width="1.15"/>
<line x1="509.60" y1="462.00" x2="514.20" y2="462.00" stroke="#262626" stroke-width="1.15"/>
<text x="506.20" y="465.20" font-family="'Liberation Sans', sans-serif" font-size="9.6" fill="#262626" text-anchor="end" font-weight="normal" stroke="#262626" stroke-width="0.25" >-2.5</text>
<line x1="511.60" y1="455.15" x2="514.20" y2="455.15" stroke="#262626" stroke-width="1.15"/>
<line x1="509.60" y1="448.30" x2="514.20" y2="448.30" stroke="#262626" stroke-width="1.15"/>
<text x="506.20" y="451.50" font-family="'Liberation Sans', sans-serif" font-size="9.6" fill="#262626" text-anchor="end" font-weight="normal" stroke="#262626" stroke-width="0.25" >-2.0</text>
<line x1="511.60" y1="441.45" x2="514.20" y2="441.45" stroke="#262626" stroke-width="1.15"/>
<line x1="509.60" y1="434.60" x2="514.20" y2="434.60" stroke="#262626" stroke-width="1.15"/>
<text x="506.20" y="437.80" font-family="'Liberation Sans', sans-serif" font-size="9.6" fill="#262626" text-anchor="end" font-weight="normal" stroke="#262626" stroke-width="0.25" >-1.5</text>
<line x1="511.60" y1="427.75" x2="514.20" y2="427.75" stroke="#262626" stroke-width="1.15"/>
<line x1="509.60" y1="420.90" x2="514.20" y2="420.90" stroke="#262626" stroke-width="1.15"/>
<text x="506.20" y="424.10" font-family="'Liberation Sans', sans-serif" font-size="9.6" fill="#262626" text-anchor="end" font-weight="normal" stroke="#262626" stroke-width="0.25" >-1.0</text>
<line x1="511.60" y1="414.05" x2="514.20" y2="414.05" stroke="#262626" stroke-width="1.15"/>
<line x1="509.60" y1="407.20" x2="514.20" y2="407.20" stroke="#262626" stroke-width="1.15"/>
<text x="506.20" y="410.40" font-family="'Liberation Sans', sans-serif" font-size="9.6" fill="#262626" text-anchor="end" font-weight="normal" stroke="#262626" stroke-width="0.25" >-0.5</text>
<line x1="511.60" y1="400.35" x2="514.20" y2="400.35" stroke="#262626" stroke-width="1.15"/>
<line x1="509.60" y1="393.50" x2="514.20" y2="393.50" stroke="#262626" stroke-width="1.15"/>
<text x="506.20" y="396.70" font-family="'Liberation Sans', sans-serif" font-size="9.6" fill="#262626" text-anchor="end" font-weight="normal" stroke="#262626" stroke-width="0.25" >0.0</text>
<line x1="511.60" y1="386.65" x2="514.20" y2="386.65" stroke="#262626" stroke-width="1.15"/>
<line x1="509.60" y1="379.80" x2="514.20" y2="379.80" stroke="#262626" stroke-width="1.15"/>
<text x="506.20" y="383.00" font-family="'Liberation Sans', sans-serif" font-size="9.6" fill="#262626" text-anchor="end" font-weight="normal" stroke="#262626" stroke-width="0.25" >0.5</text>
<line x1="511.60" y1="372.95" x2="514.20" y2="372.95" stroke="#262626" stroke-width="1.15"/>
<line x1="509.60" y1="366.10" x2="514.20" y2="366.10" stroke="#262626" stroke-width="1.15"/>
<text x="506.20" y="369.30" font-family="'Liberation Sans', sans-serif" font-size="9.6" fill="#262626" text-anchor="end" font-weight="normal" stroke="#262626" stroke-width="0.25" >1.0</text>
<line x1="511.60" y1="359.25" x2="514.20" y2="359.25" stroke="#262626" stroke-width="1.15"/>
<line x1="509.60" y1="352.40" x2="514.20" y2="352.40" stroke="#262626" stroke-width="1.15"/>
<text x="506.20" y="355.60" font-family="'Liberation Sans', sans-serif" font-size="9.6" fill="#262626" text-anchor="end" font-weight="normal" stroke="#262626" stroke-width="0.25" >1.5</text>
<line x1="511.60" y1="345.55" x2="514.20" y2="345.55" stroke="#262626" stroke-width="1.15"/>
<line x1="509.60" y1="338.70" x2="514.20" y2="338.70" stroke="#262626" stroke-width="1.15"/>
<text x="506.20" y="341.90" font-family="'Liberation Sans', sans-serif" font-size="9.6" fill="#262626" text-anchor="end" font-weight="normal" stroke="#262626" stroke-width="0.25" >2.0</text>
<line x1="511.60" y1="331.85" x2="514.20" y2="331.85" stroke="#262626" stroke-width="1.15"/>
<line x1="509.60" y1="325.00" x2="514.20" y2="325.00" stroke="#262626" stroke-width="1.15"/>
<text x="506.20" y="328.20" font-family="'Liberation Sans', sans-serif" font-size="9.6" fill="#262626" text-anchor="end" font-weight="normal" stroke="#262626" stroke-width="0.25" >2.5</text>
<line x1="511.60" y1="318.15" x2="514.20" y2="318.15" stroke="#262626" stroke-width="1.15"/>
<line x1="509.60" y1="311.30" x2="514.20" y2="311.30" stroke="#262626" stroke-width="1.15"/>
<text x="506.20" y="314.50" font-family="'Liberation Sans', sans-serif" font-size="9.6" fill="#262626" text-anchor="end" font-weight="normal" stroke="#262626" stroke-width="0.25" >3.0</text>
<line x1="511.60" y1="304.45" x2="514.20" y2="304.45" stroke="#262626" stroke-width="1.15"/>
<line x1="509.60" y1="297.60" x2="514.20" y2="297.60" stroke="#262626" stroke-width="1.15"/>
<text x="506.20" y="300.80" font-family="'Liberation Sans', sans-serif" font-size="9.6" fill="#262626" text-anchor="end" font-weight="normal" stroke="#262626" stroke-width="0.25" >3.5</text>
<line x1="511.60" y1="290.75" x2="514.20" y2="290.75" stroke="#262626" stroke-width="1.15"/>
<line x1="509.60" y1="283.90" x2="514.20" y2="283.90" stroke="#262626" stroke-width="1.15"/>
<text x="506.20" y="287.10" font-family="'Liberation Sans', sans-serif" font-size="9.6" fill="#262626" text-anchor="end" font-weight="normal" stroke="#262626" stroke-width="0.25" >4.0</text>
<line x1="398.09" y1="393.40" x2="398.09" y2="397.60" stroke="#262626" stroke-width="1.15"/>
<text x="398.09" y="408.30" font-family="'Liberation Sans', sans-serif" font-size="9.6" fill="#262626" text-anchor="middle" font-weight="normal" stroke="#262626" stroke-width="0.25" >-0.9</text>
<line x1="436.76" y1="393.40" x2="436.76" y2="397.60" stroke="#262626" stroke-width="1.15"/>
<text x="436.76" y="408.30" font-family="'Liberation Sans', sans-serif" font-size="9.6" fill="#262626" text-anchor="middle" font-weight="normal" stroke="#262626" stroke-width="0.25" >-0.6</text>
<line x1="475.43" y1="393.40" x2="475.43" y2="397.60" stroke="#262626" stroke-width="1.15"/>
<text x="475.43" y="408.30" font-family="'Liberation Sans', sans-serif" font-size="9.6" fill="#262626" text-anchor="middle" font-weight="normal" stroke="#262626" stroke-width="0.25" >-0.3</text>
<line x1="514.10" y1="393.40" x2="514.10" y2="397.60" stroke="#262626" stroke-width="1.15"/>
<text x="514.10" y="408.30" font-family="'Liberation Sans', sans-serif" font-size="9.6" fill="#262626" text-anchor="middle" font-weight="normal" stroke="#262626" stroke-width="0.25" >0.0</text>
<line x1="552.77" y1="393.40" x2="552.77" y2="397.60" stroke="#262626" stroke-width="1.15"/>
<text x="552.77" y="408.30" font-family="'Liberation Sans', sans-serif" font-size="9.6" fill="#262626" text-anchor="middle" font-weight="normal" stroke="#262626" stroke-width="0.25" >0.3</text>
<line x1="591.44" y1="393.40" x2="591.44" y2="397.60" stroke="#262626" stroke-width="1.15"/>
<text x="591.44" y="408.30" font-family="'Liberation Sans', sans-serif" font-size="9.6" fill="#262626" text-anchor="middle" font-weight="normal" stroke="#262626" stroke-width="0.25" >0.6</text>
<line x1="630.11" y1="393.40" x2="630.11" y2="397.60" stroke="#262626" stroke-width="1.15"/>
<text x="630.11" y="408.30" font-family="'Liberation Sans', sans-serif" font-size="9.6" fill="#262626" text-anchor="middle" font-weight="normal" stroke="#262626" stroke-width="0.25" >0.9</text>
<line x1="668.78" y1="393.40" x2="668.78" y2="397.60" stroke="#262626" stroke-width="1.15"/>
<text x="668.78" y="408.30" font-family="'Liberation Sans', sans-serif" font-size="9.6" fill="#262626" text-anchor="middle" font-weight="normal" stroke="#262626" stroke-width="0.25" >1.2</text>
<line x1="417.43" y1="393.40" x2="417.43" y2="395.80" stroke="#262626" stroke-width="1.15"/>
<line x1="456.10" y1="393.40" x2="456.10" y2="395.80" stroke="#262626" stroke-width="1.15"/>
<line x1="494.77" y1="393.40" x2="494.77" y2="395.80" stroke="#262626" stroke-width="1.15"/>
<line x1="533.44" y1="393.40" x2="533.44" y2="395.80" stroke="#262626" stroke-width="1.15"/>
<line x1="572.11" y1="393.40" x2="572.11" y2="395.80" stroke="#262626" stroke-width="1.15"/>
<line x1="610.78" y1="393.40" x2="610.78" y2="395.80" stroke="#262626" stroke-width="1.15"/>
<line x1="649.45" y1="393.40" x2="649.45" y2="395.80" stroke="#262626" stroke-width="1.15"/>
<text x="509.00" y="522.30" font-family="'Liberation Serif', serif" font-size="12" fill="#222" text-anchor="middle" font-weight="normal" stroke="#222" stroke-width="0.25" textLength="204" lengthAdjust="spacingAndGlyphs">DMEM culture media (flowrates)(ml/min)</text>
<text transform="translate(366.60,405.90) rotate(-90)" x="0" y="0" font-family="'Liberation Serif', serif" font-size="11.4" fill="#222" stroke="#222" stroke-width="0.25" text-anchor="middle" font-weight="normal" textLength="162.7" lengthAdjust="spacingAndGlyphs">Pressure generated in DMEM (PSI)</text>
<polyline points="414.85,431.86 427.35,408.02 514.10,393.50 585.38,340.89 627.92,342.54 643.00,343.36" fill="none" stroke="#1a1a1a" stroke-width="1.1" stroke-linejoin="round"/>
<line x1="414.85" y1="430.49" x2="414.85" y2="433.23" stroke="#1a1a1a" stroke-width="1.0"/>
<line x1="412.65" y1="430.49" x2="417.05" y2="430.49" stroke="#1a1a1a" stroke-width="1.0"/>
<line x1="412.65" y1="433.23" x2="417.05" y2="433.23" stroke="#1a1a1a" stroke-width="1.0"/>
<line x1="427.35" y1="392.95" x2="427.35" y2="423.09" stroke="#1a1a1a" stroke-width="1.0"/>
<line x1="425.15" y1="392.95" x2="429.55" y2="392.95" stroke="#1a1a1a" stroke-width="1.0"/>
<line x1="425.15" y1="423.09" x2="429.55" y2="423.09" stroke="#1a1a1a" stroke-width="1.0"/>
<rect x="412.30" y="429.31" width="5.10" height="5.10" fill="#1a1a1a"/>
<rect x="424.80" y="405.47" width="5.10" height="5.10" fill="#1a1a1a"/>
<rect x="511.55" y="390.95" width="5.10" height="5.10" fill="#1a1a1a"/>
<rect x="582.83" y="338.34" width="5.10" height="5.10" fill="#1a1a1a"/>
<rect x="625.37" y="339.99" width="5.10" height="5.10" fill="#1a1a1a"/>
<rect x="640.45" y="340.81" width="5.10" height="5.10" fill="#1a1a1a"/>
<polyline points="414.85,432.13 427.35,426.38 514.10,393.50 585.38,363.36 627.92,349.66 643.00,350.48" fill="none" stroke="#ff1010" stroke-width="1.1" stroke-linejoin="round"/>
<line x1="414.85" y1="430.76" x2="414.85" y2="433.50" stroke="#ff1010" stroke-width="1.0"/>
<line x1="412.65" y1="430.76" x2="417.05" y2="430.76" stroke="#ff1010" stroke-width="1.0"/>
<line x1="412.65" y1="433.50" x2="417.05" y2="433.50" stroke="#ff1010" stroke-width="1.0"/>
<line x1="585.38" y1="361.17" x2="585.38" y2="365.55" stroke="#ff1010" stroke-width="1.0"/>
<line x1="583.18" y1="361.17" x2="587.58" y2="361.17" stroke="#ff1010" stroke-width="1.0"/>
<line x1="583.18" y1="365.55" x2="587.58" y2="365.55" stroke="#ff1010" stroke-width="1.0"/>
<line x1="643.00" y1="336.78" x2="643.00" y2="364.18" stroke="#ff1010" stroke-width="1.0"/>
<line x1="640.80" y1="336.78" x2="645.20" y2="336.78" stroke="#ff1010" stroke-width="1.0"/>
<line x1="640.80" y1="364.18" x2="645.20" y2="364.18" stroke="#ff1010" stroke-width="1.0"/>
<circle cx="414.85" cy="432.13" r="2.65" fill="#ff1010"/>
<circle cx="427.35" cy="426.38" r="2.65" fill="#ff1010"/>
<circle cx="514.10" cy="393.50" r="2.65" fill="#ff1010"/>
<circle cx="585.38" cy="363.36" r="2.65" fill="#ff1010"/>
<circle cx="627.92" cy="349.66" r="2.65" fill="#ff1010"/>
<circle cx="643.00" cy="350.48" r="2.65" fill="#ff1010"/>
<rect x="521.10" y="458.80" width="136.00" height="20.80" fill="#fff" stroke="#6a6a6a" stroke-width="1"/>
<line x1="522.00" y1="463.70" x2="541.60" y2="463.70" stroke="#1a1a1a" stroke-width="1.1"/>
<rect x="528.80" y="461.10" width="5.20" height="5.20" fill="#1a1a1a"/>
<text x="544.60" y="466.74" font-family="'Liberation Serif', serif" font-size="9.2" fill="#222" text-anchor="start" font-weight="normal" stroke="#222" stroke-width="0.25" textLength="107" lengthAdjust="spacingAndGlyphs">Tranducer pressure (DMEM)</text>
<line x1="522.00" y1="474.50" x2="541.60" y2="474.50" stroke="#ff1010" stroke-width="1.1"/>
<circle cx="531.40" cy="474.50" r="2.7" fill="#ff1010"/>
<text x="544.60" y="477.54" font-family="'Liberation Serif', serif" font-size="9.2" fill="#222" text-anchor="start" font-weight="normal" stroke="#222" stroke-width="0.25" textLength="102" lengthAdjust="spacingAndGlyphs">Calculated pressure(DMEM)</text>
<rect x="0.00" y="0.00" width="693.00" height="1.00" fill="#4a4a4a"/>
<rect x="0.00" y="1.00" width="693.00" height="1.30" fill="#000"/>
<rect x="0.00" y="0.00" width="1.40" height="532.00" fill="#000"/>
<rect x="691.00" y="0.00" width="2.00" height="532.00" fill="#404040"/>
<rect x="0.00" y="529.80" width="691.00" height="2.20" fill="#000"/>
<rect x="340.10" y="0.00" width="1.70" height="532.00" fill="#2e2e2e"/>
<rect x="341.80" y="0.00" width="0.90" height="532.00" fill="#d0d0d0"/>
<rect x="342.70" y="0.00" width="1.50" height="532.00" fill="#000"/>
<rect x="0.00" y="265.80" width="693.00" height="1.70" fill="#000"/>
<rect x="0.00" y="270.90" width="693.00" height="1.90" fill="#000"/>
<rect x="0.00" y="267.50" width="693.00" height="3.40" fill="#ffffff"/>
<rect x="342.00" y="267.50" width="0.90" height="3.40" fill="#ffffff"/>
<rect x="0.00" y="1.00" width="21.60" height="24.80" fill="#000"/>
<rect x="2.00" y="2.90" width="18.30" height="21.10" fill="#ffff00"/>
<rect x="342.90" y="1.00" width="22.10" height="24.50" fill="#000"/>
<rect x="344.70" y="2.90" width="19.30" height="21.10" fill="#ffff00"/>
<rect x="0.00" y="270.90" width="21.60" height="25.40" fill="#000"/>
<rect x="2.00" y="273.70" width="18.30" height="21.00" fill="#ffff00"/>
<rect x="342.90" y="270.90" width="22.10" height="25.10" fill="#000"/>
<rect x="344.90" y="273.80" width="19.00" height="20.90" fill="#ffff00"/>
<text transform="translate(10.40,18.60) scale(0.62,1)" font-family="'Liberation Serif', serif" font-weight="bold" font-size="17.2" fill="#111" stroke="#111" stroke-width="0.8" text-anchor="middle">a</text>
<text transform="translate(354.20,18.60) scale(0.72,1)" font-family="'Liberation Serif', serif" font-weight="bold" font-size="15.6" fill="#111" stroke="#111" stroke-width="0.1" text-anchor="middle">b</text>
<text transform="translate(11.00,289.30) scale(0.66,1)" font-family="'Liberation Serif', serif" font-weight="bold" font-size="17.0" fill="#111" stroke="#111" stroke-width="0.8" text-anchor="middle">c</text>
<text transform="translate(353.80,289.00) scale(0.72,1)" font-family="'Liberation Serif', serif" font-weight="bold" font-size="15.6" fill="#111" stroke="#111" stroke-width="0.1" text-anchor="middle">d</text>
</svg>
</body></html>
